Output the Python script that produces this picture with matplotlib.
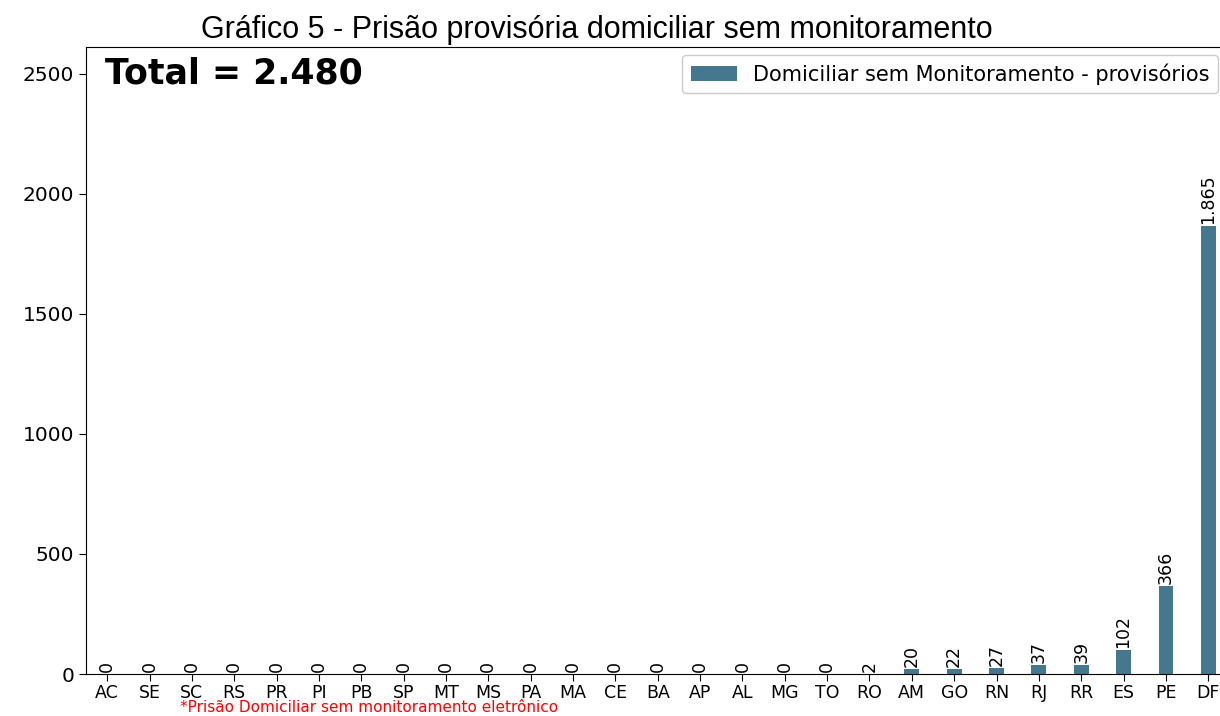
import matplotlib
matplotlib.use("Agg")
import matplotlib.pyplot as plt

# dados por UF
ufs = ['AC', 'SE', 'SC', 'RS', 'PR', 'PI', 'PB', 'SP', 'MT', 'MS', 'PA', 'MA', 'CE',
       'BA', 'AP', 'AL', 'MG', 'TO', 'RO', 'AM', 'GO', 'RN', 'RJ', 'RR', 'ES', 'PE', 'DF']
valores = [0, 0, 0, 0, 0, 0, 0, 0, 0, 0, 0, 0, 0,
           0, 0, 0, 0, 0, 2, 20, 22, 27, 37, 39, 102, 366, 1865]
serie = 'Domiciliar sem Monitoramento - provisórios'
total = 2480
titulo = 'Gráfico 5 - Prisão provisória domiciliar sem monitoramento'
nota = '*Prisão Domiciliar sem monitoramento eletrônico'

cor = '#45788f'

fig = plt.figure(figsize=(12.2, 7.16), dpi=100)
W, H = 1220, 716
n = len(ufs)
# eixo passa da borda direita (imagem original cortada)
passo = 42.35
x0 = 86
ax = fig.add_axes([x0 / W, (H - 674) / H, passo * n / W, (674 - 47) / H])

pos = list(range(n))
ax.bar(pos, valores, width=0.35, color=cor, label=serie)
for p, v in zip(pos, valores):
    txt = f'{v:,}'.replace(',', '.')
    ax.text(p, v + 8, txt, rotation=90, ha='center', va='bottom', fontsize=12.5)

ax.set_xlim(-0.5, n - 0.5)
ax.set_ylim(0, max(valores) * 1.4)
ax.set_xticks(pos)
ax.set_xticklabels(ufs, fontsize=12.5)
ax.set_yticks([0, 500, 1000, 1500, 2000, 2500])
ax.tick_params(axis='y', labelsize=14.5, length=5)
ax.tick_params(axis='x', length=5, pad=2)
ax.spines['right'].set_visible(False)

fig.legend(loc='upper right', bbox_to_anchor=(1218 / W, (H - 55) / H),
           bbox_transform=fig.transFigure, borderaxespad=0, fontsize=15,
           handlelength=2.2, fancybox=True, framealpha=1)

fig.text(105 / W, (H - 83) / H, f'Total = {total:,}'.replace(',', '.'),
         fontsize=25, fontweight='bold', va='baseline', ha='left')
fig.text(597 / W, (H - 38) / H, titulo, fontsize=22, family='Liberation Sans',
         ha='center', va='baseline')
fig.text(180 / W, 1 / H, nota, fontsize=11, color='red', va='bottom', ha='left')

fig.savefig('out.png', dpi=100)
